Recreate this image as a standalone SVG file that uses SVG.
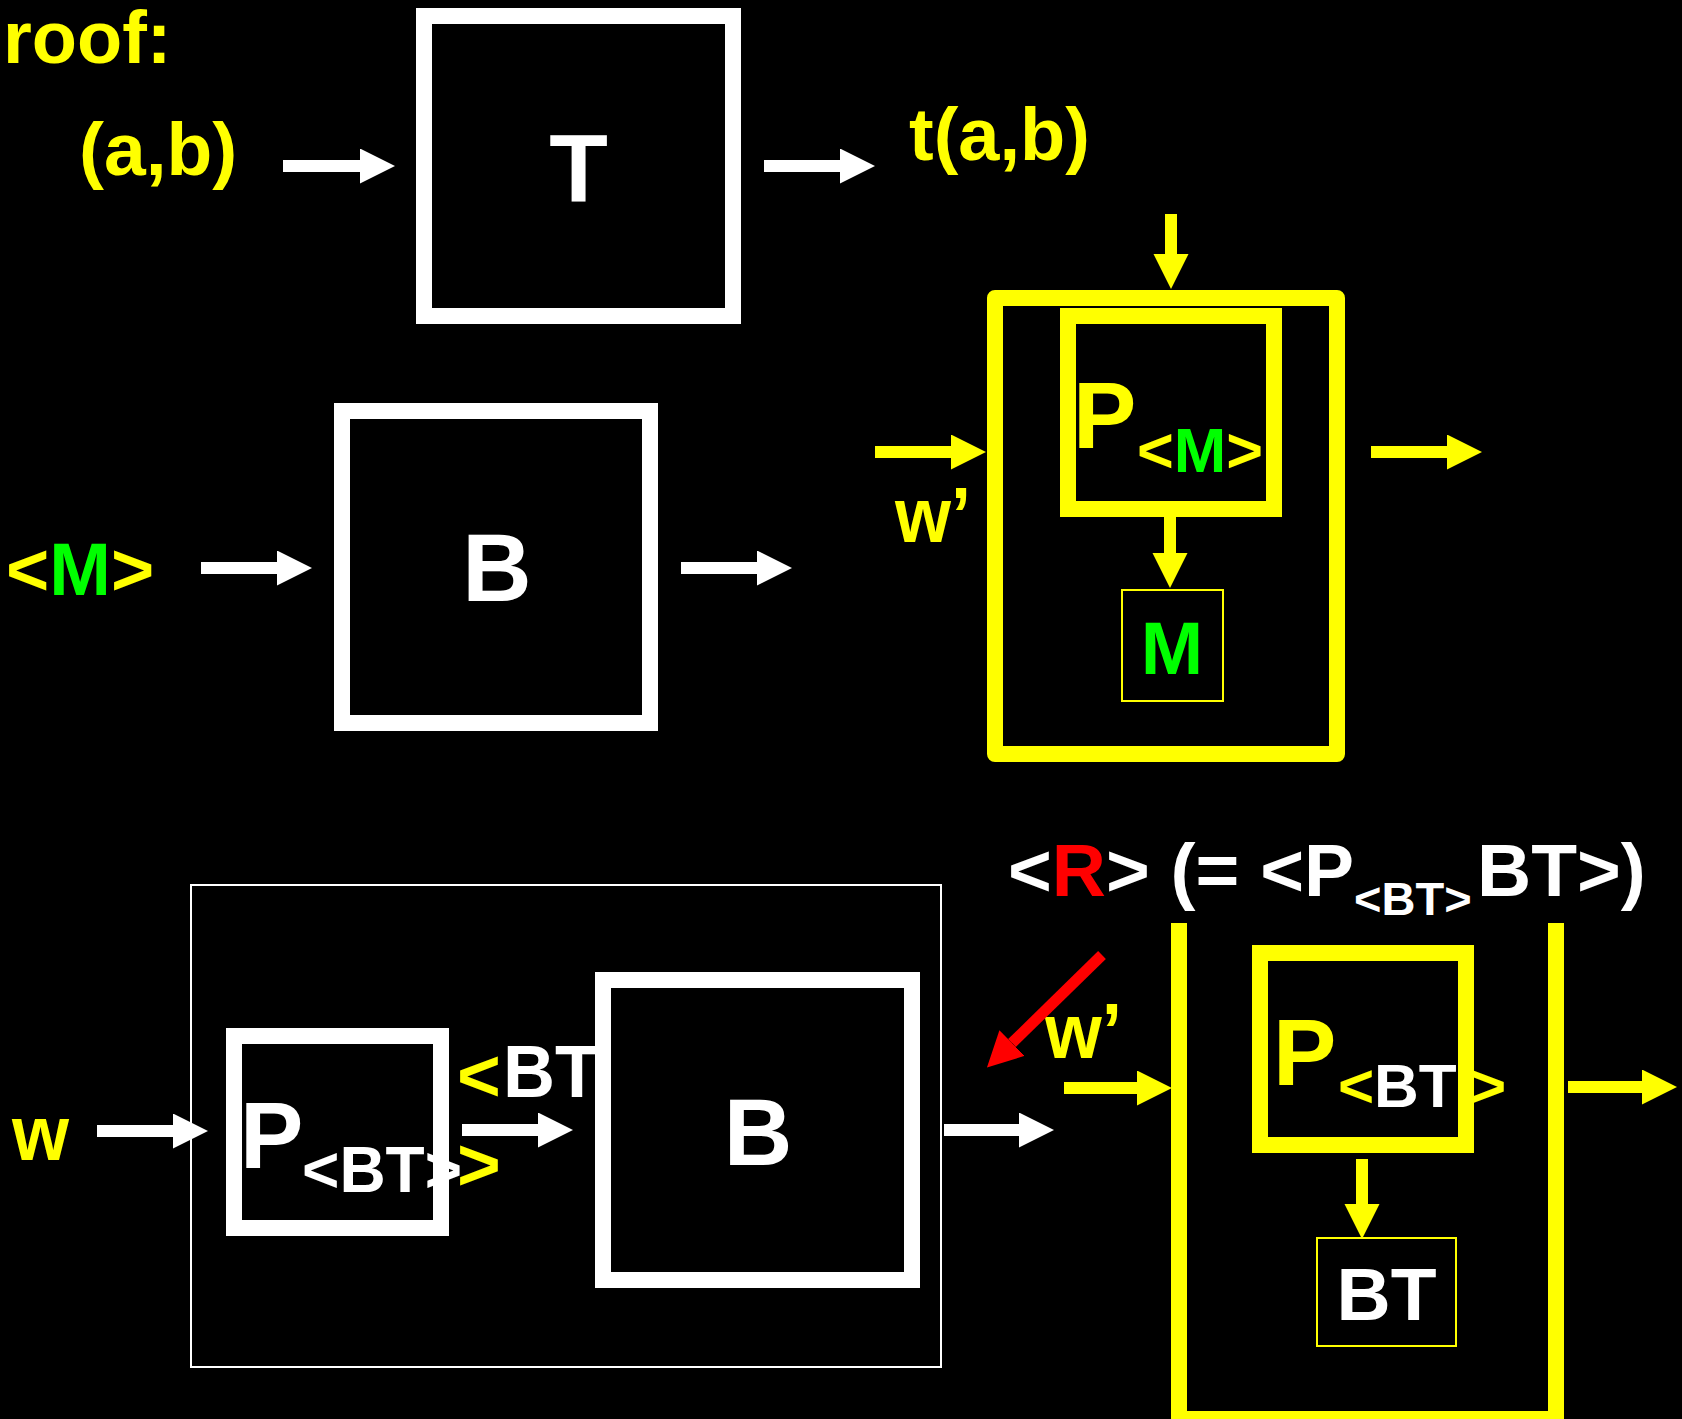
<svg xmlns="http://www.w3.org/2000/svg" width="1682" height="1419" viewBox="0 0 1682 1419">
<style>
text{font-family:"Liberation Sans",Arial,sans-serif;font-weight:bold}
.y{fill:#FFFF00}.w{fill:#FFFFFF}.g{fill:#00FF00}.r{fill:#FF0000}
.bw{fill:#000;stroke:#FFF;stroke-width:16}
.by{fill:#000;stroke:#FFFF00;stroke-width:16}
.thy{fill:#000;stroke:#FFFF00;stroke-width:2}
.aw{stroke:#FFF;stroke-width:12;fill:none;marker-end:url(#hw)}
.ay{stroke:#FFFF00;stroke-width:12;fill:none;marker-end:url(#hy)}
.ar{stroke:#FF0000;stroke-width:11;fill:none;marker-end:url(#hr)}
.n{font-family:"Liberation Sans Narrow","Liberation Sans",Arial,sans-serif}
</style>
<defs>
<marker id="hw" markerUnits="userSpaceOnUse" markerWidth="36" markerHeight="36" refX="0" refY="17.5" orient="auto"><path d="M0,0 L35,17.5 L0,35 Z" fill="#FFF"/></marker>
<marker id="hy" markerUnits="userSpaceOnUse" markerWidth="36" markerHeight="36" refX="0" refY="17.5" orient="auto"><path d="M0,0 L35,17.5 L0,35 Z" fill="#FFFF00"/></marker>
<marker id="hr" markerUnits="userSpaceOnUse" markerWidth="36" markerHeight="37" refX="0" refY="18" orient="auto"><path d="M0,0 L35,18 L0,36 Z" fill="#FF0000"/></marker>
</defs>
<rect width="1682" height="1419" fill="#000"/>

<g id="labels-top">
<text x="3" y="63" font-size="74" class="y">roof:</text>
<text x="79" y="175" font-size="75" class="y">(a,b)</text>
<text x="909" y="160" font-size="74" class="y">t(a,b)</text>
<text x="6" y="595" font-size="74" class="y">&lt;<tspan class="g">M</tspan>&gt;</text>
</g>

<g id="node-T">
<rect x="424" y="16" width="309" height="300" class="bw"/>
<text x="578.5" y="202" font-size="96" class="w" text-anchor="middle">T</text>
</g>

<g id="node-B1">
<rect x="342" y="411" width="308" height="312" class="bw"/>
<text x="497" y="601" font-size="96" class="w" text-anchor="middle">B</text>
</g>

<g id="node-outer1">
<rect x="995" y="298" width="342" height="456" class="by" stroke-linejoin="round"/>
</g>
<g id="node-PM">
<rect x="1068" y="316" width="206" height="193" class="by"/>
<text x="1073" y="448" font-size="95" class="y">P</text>
<text x="1137" y="472" font-size="63" class="y">&lt;<tspan class="g">M</tspan>&gt;</text>
</g>
<g id="node-M">
<rect x="1122" y="590" width="101" height="111" class="thy"/>
<text x="1172" y="674" font-size="75" class="g" text-anchor="middle">M</text>
</g>
<text x="895" y="542" font-size="77" class="y n" textLength="76" lengthAdjust="spacingAndGlyphs">w’</text>

<g id="node-frame">
<rect x="191" y="885" width="750" height="482" fill="#000" stroke="#FFF" stroke-width="2"/>
</g>
<text x="12" y="1160" font-size="78" class="y n" textLength="57" lengthAdjust="spacingAndGlyphs">w</text>

<g id="node-PBT1">
<rect x="234" y="1036" width="207" height="192" class="bw"/>
<text x="240" y="1168" font-size="95" class="w">P</text>
<text x="302" y="1192" font-size="64" class="w">&lt;BT&gt;</text>
</g>
<g id="label-BT">
<text x="457" y="1101" font-size="75" class="y">&lt;</text>
<text x="503" y="1097" font-size="75" class="w n" textLength="96" lengthAdjust="spacingAndGlyphs">BT</text>
<text x="457" y="1190" font-size="75" class="y">&gt;</text>
</g>

<g id="node-B2">
<rect x="603" y="980" width="309" height="300" class="bw"/>
<text x="758" y="1165" font-size="95" class="w" text-anchor="middle">B</text>
</g>

<g id="label-R">
<text x="1008" y="896" font-size="75" class="w">&lt;<tspan class="r">R</tspan>&gt; (= &lt;P<tspan font-size="47" y="915">&lt;BT&gt;</tspan><tspan x="1477" y="896">BT&gt;)</tspan></text>
</g>
<text x="1045" y="1058" font-size="77" class="y n" textLength="77" lengthAdjust="spacingAndGlyphs">w’</text>

<g id="node-outer2">
<path d="M1179,923 V1419 H1556 V923" fill="#000" stroke="#FFFF00" stroke-width="16"/>
</g>
<g id="node-PBT2">
<rect x="1260" y="953" width="206" height="192" class="by"/>
<text x="1273" y="1085" font-size="95" class="y">P</text>
<text x="1338" y="1107" font-size="62" class="y">&lt;</text>
<text x="1374" y="1107" font-size="62" class="w">BT</text>
<text x="1470" y="1107" font-size="62" class="y">&gt;</text>
</g>
<g id="node-BT">
<rect x="1317" y="1238" width="139" height="108" class="thy"/>
<text x="1386.5" y="1320" font-size="75" class="w" text-anchor="middle">BT</text>
</g>

<g id="connectors">
<line x1="283" y1="166" x2="360" y2="166" class="aw"/>
<line x1="764" y1="166" x2="840" y2="166" class="aw"/>
<line x1="201" y1="568" x2="277" y2="568" class="aw"/>
<line x1="681" y1="568" x2="757" y2="568" class="aw"/>
<line x1="97" y1="1131" x2="173" y2="1131" class="aw"/>
<line x1="462" y1="1130" x2="538" y2="1130" class="aw"/>
<line x1="944" y1="1130" x2="1019" y2="1130" class="aw"/>
<line x1="1171" y1="214" x2="1171" y2="254" class="ay"/>
<line x1="875" y1="452" x2="951" y2="452" class="ay"/>
<line x1="1371" y1="452" x2="1447" y2="452" class="ay"/>
<line x1="1170" y1="517" x2="1170" y2="553" class="ay"/>
<line x1="1064" y1="1088" x2="1137" y2="1088" class="ay"/>
<line x1="1568" y1="1087" x2="1642" y2="1087" class="ay"/>
<line x1="1362" y1="1159" x2="1362" y2="1204" class="ay"/>
<line x1="1102" y1="955" x2="1012" y2="1043" class="ar"/>
</g>
</svg>
